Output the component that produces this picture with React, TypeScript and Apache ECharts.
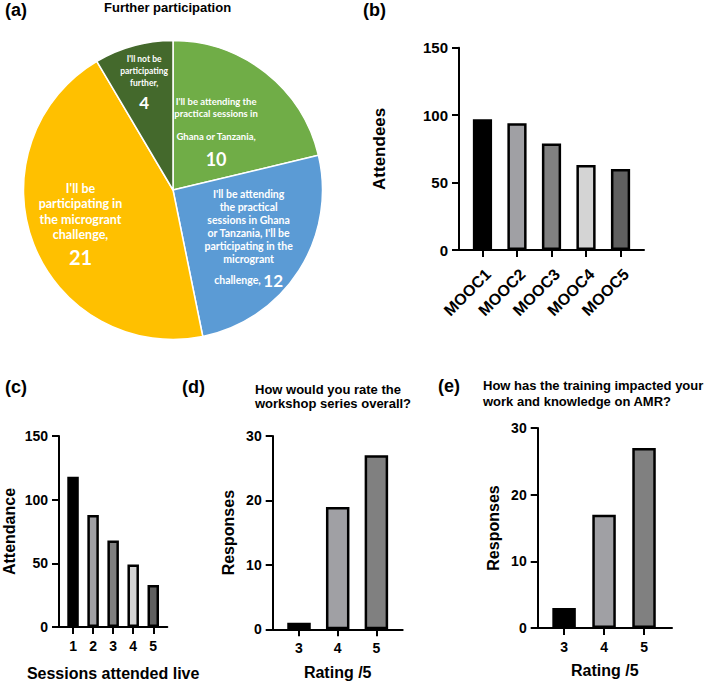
import React, { useEffect, useRef } from 'react';
import * as echarts from 'echarts';

// ---------- data ----------
const pieNames = [
  "I'll be attending the practical sessions in Ghana or Tanzania",
  "I'll be attending the practical sessions in Ghana or Tanzania, I'll be participating in the microgrant challenge",
  "I'll be participating in the microgrant challenge",
  "I'll not be participating further",
];
const pieValues = [10, 12, 21, 4];
const pieLabelLines = [
  ["I'll be attending the", 'practical sessions in', '', 'Ghana or Tanzania,'],
  ["I'll be attending", 'the practical', 'sessions in Ghana', "or Tanzania, I'll be", 'participating in the', 'microgrant', '', 'challenge,'],
  ["I'll be", 'participating in', 'the microgrant', 'challenge,'],
  ["I'll not be", 'participating', 'further,'],
];

const moocCategories = ['MOOC1', 'MOOC2', 'MOOC3', 'MOOC4', 'MOOC5'];
const moocValues = [97, 94, 79, 63, 60];
const attendeeTicks = [0, 50, 100, 150];

const sessionCategories = ['1', '2', '3', '4', '5'];
const sessionValues = [118, 88, 68, 49, 33];
const attendanceTicks = [0, 50, 100, 150];

const ratingCategories = ['3', '4', '5'];
const workshopValues = [1, 19, 27];
const impactValues = [3, 17, 27];
const responseTicks = [0, 10, 20, 30];

// ---------- styles ----------
const FONT = "'Liberation Sans', Arial, sans-serif";
const PIE_FONT = "Lato, 'Open Sans', sans-serif";
const pieColors = ['#70AD47', '#5B9BD5', '#FFC000', '#44692C'];
const greys5 = ['#000000', '#A0A0A4', '#808080', '#D4D4D4', '#606060'];
const greys3 = ['#000000', '#A0A0A4', '#808080'];
const PIE_CX = 173;
const PIE_CY = 190;
const PIE_R = 149.5;
const labelRadius = [0.465, 0.6, 0.663, 0.732];
const labelStyles = [
  { s: 9.5, sl: 12, g: 11, n: 18, nl: 32 },
  { s: 10.5, sl: 13, g: 6, n: 17, nl: 18 },
  { s: 12.5, sl: 15.5, g: 6, n: 20, nl: 28 },
  { s: 8.5, sl: 12, g: 6, n: 17, nl: 26 },
];

function pieLabelText(i: number, value: number) {
  const lines = pieLabelLines[i];
  const out: string[] = [];
  lines.forEach((ln, k) => {
    const isLast = k === lines.length - 1;
    if (ln === '') {
      out.push(`{g${i}| }`);
    } else if (isLast && i === 1) {
      out.push(`{s${i}|${ln} }{n${i}|${value}}`);
    } else {
      out.push(`{s${i}|${ln}}`);
    }
  });
  if (i !== 1) out.push(`{n${i}|${value}}`);
  return out.join('\n');
}

function pieRich() {
  const rich: any = {};
  labelStyles.forEach((st, i) => {
    const base = { color: '#fff', fontWeight: 'bold', fontFamily: PIE_FONT, align: 'center' };
    rich['s' + i] = { ...base, fontSize: st.s, lineHeight: st.sl };
    rich['g' + i] = { ...base, fontSize: 4, lineHeight: st.g };
    rich['n' + i] = { ...base, fontSize: st.n, lineHeight: st.nl };
  });
  return rich;
}

const total = pieValues.reduce((a, b) => a + b, 0);
const midAngles: number[] = [];
{
  let acc = 0;
  pieValues.forEach((v) => {
    midAngles.push(((acc + v / 2) / total) * Math.PI * 2);
    acc += v;
  });
}

const textBold = { fontFamily: FONT, fontWeight: 'bold' as const, color: '#000' };

function xAxisFor(gridIndex: number, cats: string[], min: number, max: number, extra: any = {}) {
  const idx = cats.map((_, i) => i);
  return {
    type: 'value',
    gridIndex,
    min,
    max,
    axisLine: { show: true, onZero: false, lineStyle: { color: '#000', width: 2 } },
    axisTick: { show: true, customValues: idx, length: 7, lineStyle: { color: '#000', width: 2 } },
    axisLabel: {
      show: true,
      customValues: idx,
      formatter: (v: number) => cats[Math.round(v)] ?? '',
      fontSize: 14,
      margin: 12,
      ...textBold,
      ...(extra.axisLabel || {}),
    },
    splitLine: { show: false },
    name: extra.name,
    nameLocation: 'middle',
    nameGap: extra.nameGap,
    nameTextStyle: { ...textBold, fontSize: 16, lineHeight: 16 },
  };
}

function yAxisFor(gridIndex: number, ticks: number[], name: string, nameGap: number, nameSize: number, labelSize = 14) {
  return {
    type: 'value',
    gridIndex,
    min: ticks[0],
    max: ticks[ticks.length - 1],
    interval: ticks[1] - ticks[0],
    axisLine: { show: true, onZero: false, lineStyle: { color: '#000', width: 2 } },
    axisTick: { show: true, length: 7, lineStyle: { color: '#000', width: 2 } },
    axisLabel: { show: true, fontSize: labelSize, margin: 11, ...textBold },
    splitLine: { show: false },
    name,
    nameLocation: 'middle',
    nameGap,
    nameTextStyle: { ...textBold, fontSize: nameSize, lineHeight: nameSize },
  };
}

function barSeries(axisIndex: number, values: number[], colors: string[], barWidth: number) {
  return {
    type: 'bar',
    xAxisIndex: axisIndex,
    yAxisIndex: axisIndex,
    barWidth,
    silent: true,
    itemStyle: { borderColor: '#000', borderWidth: 2.5 },
    data: values.map((v, i) => ({ value: [i, v], itemStyle: { color: colors[i] } })),
  };
}

const titleStyle = (size: number, lh: number) => ({ ...textBold, fontSize: size, lineHeight: lh });

export default function App() {
  const ref = useRef<HTMLDivElement>(null);
  useEffect(() => {
    if (!ref.current) return;
    const chart = echarts.init(ref.current, undefined, { renderer: 'svg' });
    const option: any = {
      animation: false,
      backgroundColor: '#fff',
      title: [
        { text: '(a)', left: 5, top: 0, padding: 0, textStyle: titleStyle(18, 20) },
        { text: 'Further participation', left: 104, top: 0, padding: 0, textStyle: titleStyle(13, 14) },
        { text: '(b)', left: 363, top: 0, padding: 0, textStyle: titleStyle(18, 20) },
        { text: '(c)', left: 5, top: 377, padding: 0, textStyle: titleStyle(18, 20) },
        { text: '(d)', left: 182, top: 377, padding: 0, textStyle: titleStyle(18, 20) },
        { text: 'How would you rate the\nworkshop series overall?', left: 255, top: 382, padding: 0, textStyle: titleStyle(13, 14) },
        { text: '(e)', left: 438, top: 376, padding: 0, textStyle: titleStyle(18, 20) },
        { text: 'How has the training impacted your\nwork and knowledge on AMR?', left: 483, top: 378, padding: 0, textStyle: titleStyle(13, 15.5) },
      ],
      grid: [
        { left: 459, top: 47.7, width: 185, height: 202.3 },
        { left: 57.3, top: 436, width: 110, height: 194 },
        { left: 272.7, top: 436, width: 130, height: 193.3 },
        { left: 537.7, top: 428, width: 134.3, height: 200 },
      ],
      xAxis: [
        xAxisFor(0, moocCategories, -0.68, 4.68, { axisLabel: { rotate: 45, fontSize: 16, margin: 16, verticalAlign: 'top' } }),
        xAxisFor(1, sessionCategories, -0.7, 4.7, { name: 'Sessions attended live', nameGap: 38 }),
        xAxisFor(2, ratingCategories, -0.68, 2.68, { name: 'Rating /5', nameGap: 35 }),
        xAxisFor(3, ratingCategories, -0.66, 2.7, { name: 'Rating /5', nameGap: 34 }),
      ],
      yAxis: [
        yAxisFor(0, attendeeTicks, 'Attendees', 71, 17, 15),
        yAxisFor(1, attendanceTicks, 'Attendance', 42, 16),
        yAxisFor(2, responseTicks, 'Responses', 36, 16),
        yAxisFor(3, responseTicks, 'Responses', 36, 16),
      ],
      series: [
        {
          type: 'pie',
          center: [PIE_CX, PIE_CY],
          radius: [0, PIE_R],
          startAngle: 90,
          clockwise: true,
          silent: true,
          itemStyle: { borderColor: '#fff', borderWidth: 1.5 },
          label: {
            show: true,
            position: 'inside',
            overflow: 'none',
            color: '#fff',
            fontWeight: 'bold',
            fontFamily: PIE_FONT,
            formatter: (p: any) => pieLabelText(p.dataIndex, p.value),
            rich: pieRich(),
          },
          labelLine: { show: false },
          labelLayout: (p: any) => {
            const i = p.dataIndex;
            const r = PIE_R * labelRadius[i];
            return {
              x: PIE_CX + r * Math.sin(midAngles[i]),
              y: PIE_CY - r * Math.cos(midAngles[i]),
              align: 'center',
              verticalAlign: 'middle',
            };
          },
          data: pieNames.map((n, i) => ({ name: n, value: pieValues[i], itemStyle: { color: pieColors[i] } })),
        },
        barSeries(0, moocValues, greys5, 19.2),
        barSeries(1, sessionValues, greys5, 11.5),
        barSeries(2, workshopValues, greys3, 23.5),
        barSeries(3, impactValues, greys3, 23.5),
      ],
    };
    chart.setOption(option);
    return () => chart.dispose();
  }, []);
  return <div ref={ref} style={{ position: 'absolute', left: 0, top: 0, width: 705, height: 682 }} />;
}
